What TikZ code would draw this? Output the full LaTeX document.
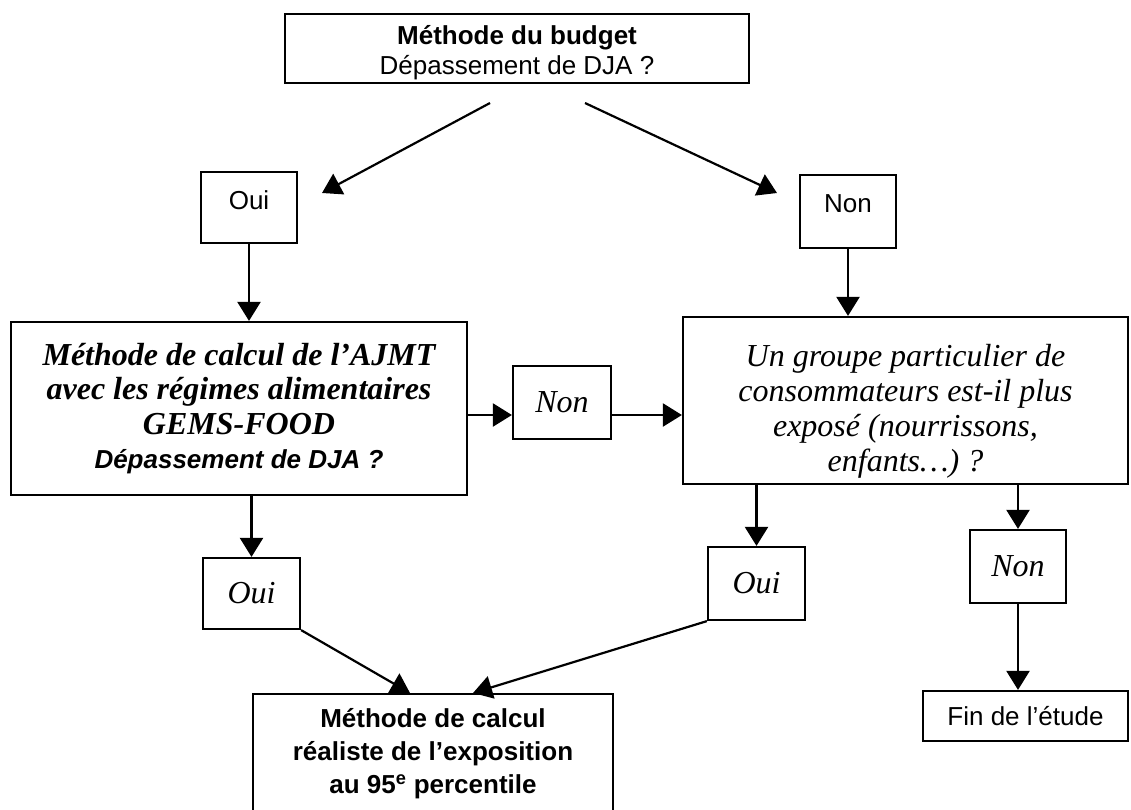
\documentclass[tikz,border=0pt]{standalone}
\usepackage{fontspec}
\setmainfont{Liberation Serif}
\newfontfamily\arial{Liberation Sans}
\usetikzlibrary{arrows.meta}
\begin{document}
\begin{tikzpicture}[x=1pt,y=-1pt,
  box/.style={draw, line width=2.2pt, inner sep=0pt, align=center},
  arr/.style={line width=2.2pt, -{Triangle[length=19pt,width=23pt]}},
  ar/.style={font=\arial\fontsize{26}{30}\selectfont},
  arb/.style={font=\arial\bfseries\fontsize{26}{33}\selectfont},
  tm/.style={font=\itshape\fontsize{32}{35}\selectfont}]
\useasboundingbox (0,0) rectangle (1131,809);
\clip (0,0) rectangle (1131,809);
\fill[white] (0,0) rectangle (1131,809);

\node[box, minimum width=464pt, minimum height=69pt, ar] (top) at (517,48.5) {\rule{0pt}{27pt}\textbf{Méthode du budget}\\Dépassement de DJA ?};
\node[box, minimum width=96pt, minimum height=71pt, ar, text depth=14pt] (oui1) at (249,207.5) {Oui};
\node[box, minimum width=96pt, minimum height=73pt, ar, text depth=16pt] (non1) at (848,211.5) {Non};
\node[box, minimum width=456pt, minimum height=173pt, font=\bfseries\itshape\fontsize{32}{34.5}\selectfont] (left) at (239,408.5) {Méthode de calcul de l’AJMT\\avec les régimes alimentaires\\GEMS-FOOD\\{\arial\fontsize{26}{34.5}\selectfont Dépassement de DJA ?}};
\node[box, minimum width=98pt, minimum height=73pt, tm] (non2) at (562,402.5) {Non};
\node[box, minimum width=445pt, minimum height=167pt, tm] (right) at (905.5,400.5) {\rule{0pt}{44pt}Un groupe particulier de\\consommateurs est-il plus\\exposé (nourrissons,\\enfants…) ?};
\node[box, minimum width=97pt, minimum height=71pt, tm] (oui2) at (251.5,593.5) {Oui};
\node[box, minimum width=97pt, minimum height=73pt, tm] (oui3) at (756.5,583.5) {Oui};
\node[box, minimum width=96pt, minimum height=73pt, tm] (non3) at (1018,566.5) {Non};
\node[box, minimum width=205pt, minimum height=50pt, ar] (fin) at (1025.5,716) {Fin de l’étude};
\node[box, anchor=north, minimum width=360pt, arb] (res) at (433,693) {\parbox[c][150pt][t]{340pt}{\centering\vspace*{14pt}Méthode de calcul\\réaliste de l’exposition\\au 95\textsuperscript{e} percentile}};

\coordinate (sl) at (490,103); \coordinate (tl) at (322,193);
\coordinate (sr) at (585,103); \coordinate (tr) at (777,193);
\draw[arr] (sl) -- (tl);
\draw[arr] (sr) -- (tr);
\draw[arr] (oui1.south) -- (oui1.south |- left.north);
\draw[arr] (non1.south) -- (non1.south |- right.north);
\coordinate (hy) at (0,415);
\draw[arr] (left.east |- hy) -- (non2.west |- hy);
\draw[arr] (non2.east |- hy) -- (right.west |- hy);
\draw[arr] (oui2.north |- left.south) -- (oui2.north);
\draw[arr] (oui3.north |- right.south) -- (oui3.north);
\draw[arr] (non3.north |- right.south) -- (non3.north);
\draw[arr] (non3.south) -- (non3.south |- fin.north);
\coordinate (bl) at (410,693); \coordinate (br) at (473,693);
\draw[arr] (oui2.south east) -- (bl);
\draw[arr] (oui3.south west) -- (br);
\end{tikzpicture}
\end{document}
